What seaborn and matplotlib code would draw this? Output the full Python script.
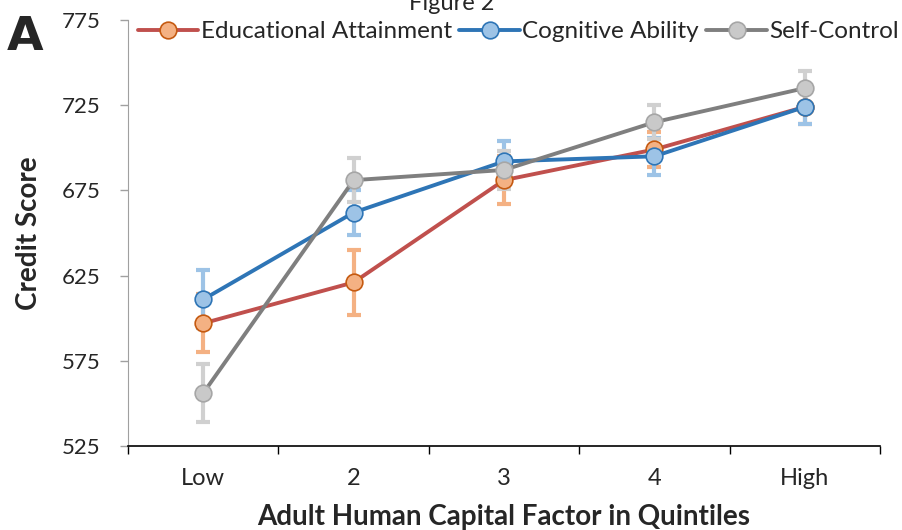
import pandas as pd
import matplotlib
matplotlib.use("Agg")
import matplotlib.pyplot as plt
import seaborn as sns

# values
quintiles = ["Low", "2", "3", "4", "High"]
series_names = ["Educational Attainment", "Cognitive Ability", "Self-Control"]

edu_mean = [597, 621, 681, 699, 724]
edu_err = [17, 19, 14, 10, 10]
cog_mean = [611, 662, 692, 695, 724]
cog_err = [17, 13, 12, 11, 10]
self_mean = [556, 681, 687, 715, 735]
self_err = [17, 13, 11, 10, 10]

y_ticks = [525, 575, 625, 675, 725, 775]

line_colors = ["#C0504D", "#2E75B6", "#7F7F7F"]
fill_colors = ["#F4B183", "#9DC3E6", "#C9C9C9"]
edge_colors = ["#C55A11", "#2E75B6", "#A6A6A6"]
err_colors = ["#F4B183", "#9DC3E6", "#D0D0D0"]

sns.set_style("white")
plt.rcParams["font.family"] = ["Lato", "DejaVu Sans"]

rows = []
for name, means, errs in zip(series_names, [edu_mean, cog_mean, self_mean],
                             [edu_err, cog_err, self_err]):
    for i, (m, e) in enumerate(zip(means, errs)):
        rows.append({"series": name, "pos": i, "score": m, "err": e})
df = pd.DataFrame(rows)

fig = plt.figure(figsize=(9.03, 5.3), dpi=100)
ax = fig.add_axes([0.1418, 0.1585, 0.8327, 0.8038])

# error bars underneath
for k, name in enumerate(series_names):
    sub = df[df["series"] == name]
    ax.errorbar(sub["pos"], sub["score"], yerr=sub["err"], fmt="none",
                ecolor=err_colors[k], elinewidth=3, capsize=5, capthick=3,
                zorder=1)

for k, name in enumerate(series_names):
    sub = df[df["series"] == name]
    sns.lineplot(data=sub, x="pos", y="score", ax=ax, color=line_colors[k],
                 linewidth=2.8, marker="o", markersize=12,
                 markerfacecolor=fill_colors[k], markeredgecolor=edge_colors[k],
                 markeredgewidth=1.2, label=name, zorder=3 + k)

ax.set_xlim(-0.5, 4.5)
ax.set_ylim(525, 775)
ax.set_yticks(y_ticks)
ax.set_xticks(range(len(quintiles)))
ax.set_xticklabels(quintiles)
ax.set_xticks([i - 0.5 for i in range(len(quintiles) + 1)], minor=True)
ax.tick_params(axis="x", which="major", length=0, labelsize=17, pad=16)
ax.tick_params(axis="x", which="minor", length=6, width=1, color="#000000",
               direction="out", bottom=True)
ax.tick_params(axis="y", length=6, width=1, color="#A0A0A0", direction="out",
               left=True, labelsize=16, pad=14)

sns.despine(ax=ax)
ax.spines["left"].set_color("#A0A0A0")
ax.spines["bottom"].set_color("#000000")
ax.spines["bottom"].set_linewidth(1.2)

ax.set_xlabel("Adult Human Capital Factor in Quintiles", fontsize=20,
              fontweight="bold", labelpad=11)
ax.set_ylabel("Credit Score", fontsize=20, fontweight="bold", labelpad=14)

ax.get_legend().remove()
handles, labels = ax.get_legend_handles_labels()
fig.legend(handles, labels, loc="center", bbox_to_anchor=(0.574, 0.94),
           ncol=3, frameon=False, fontsize=17.5, handlelength=2.5,
           handletextpad=0.1, columnspacing=0.3, borderaxespad=0)

fig.text(0.008, 0.93, "A", fontsize=34, fontweight="heavy", va="center",
         ha="left", family="DejaVu Sans")
fig.text(0.5, 0.982, "Figure 2", fontsize=17, ha="center", va="baseline")

fig.savefig("out.png", dpi=100)
